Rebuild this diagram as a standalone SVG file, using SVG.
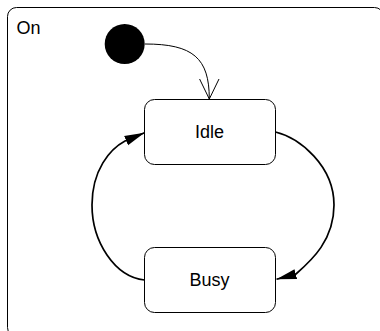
<svg xmlns="http://www.w3.org/2000/svg" width="380" height="331" viewBox="0 0 380 331">
<style>
  .frame { fill: #ffffff; stroke: #000000; stroke-width: 1; }
  .state rect { fill: #ffffff; stroke: #000000; stroke-width: 1; }
  .lbl { font-family: "Liberation Sans", Arial, sans-serif; font-size: 18px; fill: #000000; }
  .edge { fill: none; stroke: #000000; stroke-width: 1.7; }
  .init-edge { fill: none; stroke: #000000; stroke-width: 1; }
</style>
<defs>
  <marker id="filled" viewBox="0 0 20 12" refX="20" refY="6" markerWidth="20" markerHeight="12" markerUnits="userSpaceOnUse" orient="auto">
    <path d="M0,1 L20,6 L0,11 z" fill="#000000"/>
  </marker>
  <marker id="open" viewBox="0 0 22 22" refX="20" refY="11" markerWidth="22" markerHeight="22" markerUnits="userSpaceOnUse" orient="auto">
    <path d="M0,1.3 L20,11 L0,20.7" fill="none" stroke="#000000" stroke-width="1"/>
  </marker>
</defs>
<rect width="380" height="331" fill="#ffffff"/>
<g id="On">
  <rect class="frame" x="7.5" y="7.5" width="376" height="329" rx="9" ry="9"/>
  <text class="lbl" x="16.5" y="33.5">On</text>
</g>
<g id="initial">
  <circle cx="124.7" cy="44" r="20" fill="#000000"/>
</g>
<g id="Idle" class="state">
  <rect x="144.5" y="99.5" width="131" height="65" rx="10" ry="10"/>
  <text class="lbl" x="209.5" y="137.5" text-anchor="middle">Idle</text>
</g>
<g id="Busy" class="state">
  <rect x="144.5" y="247.5" width="131" height="65" rx="10" ry="10"/>
  <text class="lbl" x="209.5" y="286" text-anchor="middle">Busy</text>
</g>
<g id="connectors">
  <path class="init-edge" d="M145,44 C193,44 209.3,58 209.3,99" marker-end="url(#open)"/>
  <path class="edge" d="M275.5,132 C300,138 334,166 334,205 C334,240 312,260 296,274 L276.5,279.3" marker-end="url(#filled)"/>
  <path class="edge" d="M144.5,280 C115,277 92,242 92,205 C92,170 110,149 125,141 L144.5,132.7" marker-end="url(#filled)"/>
</g>
</svg>
